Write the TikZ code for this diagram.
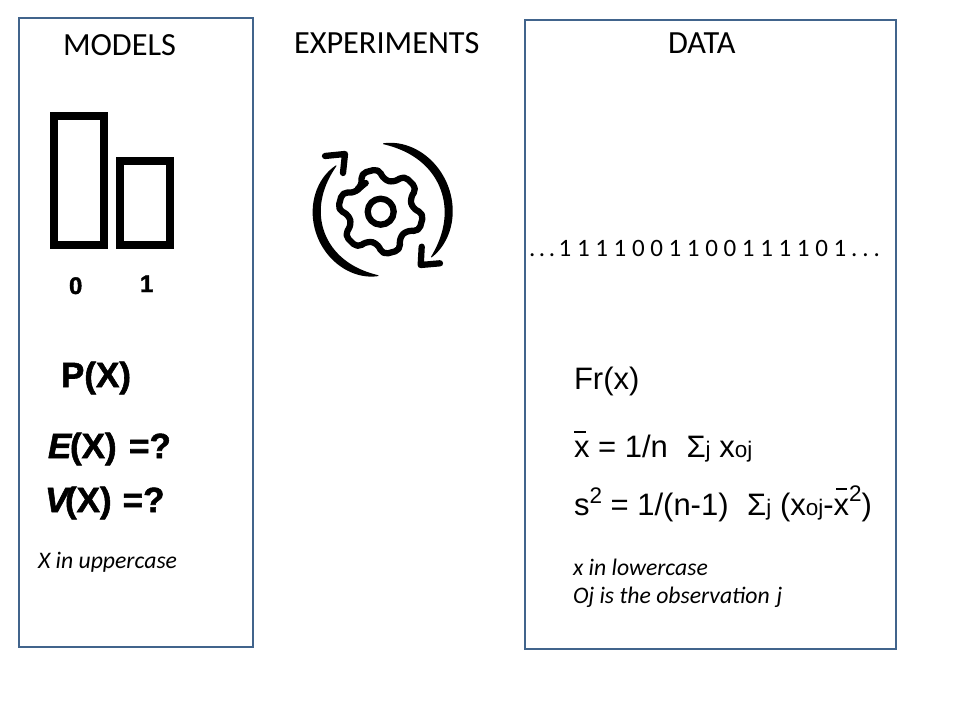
\documentclass[tikz,border=0pt]{standalone}
\usepackage{fontspec}
\setmainfont{Liberation Sans}
\newfontfamily\calfont{Carlito}
\newfontfamily\fatfont[FakeBold=1.6]{Liberation Sans Bold}
\newfontfamily\fatitfont[FakeBold=1.6]{Liberation Sans Bold Italic}
\newcommand{\px}[1]{\fontsize{\fpeval{#1*0.75}}{\fpeval{#1*0.9}}\selectfont}
\definecolor{panel}{HTML}{41648C}
\tikzset{
  x=0.75pt,y=-0.75pt,
  declare function={tw(\u)=0.4+3.7*(1-\u*\u*\u*\u);},
  panelbox/.style={draw=panel,line width=1.9pt},
  barbox/.style={draw=black,line width=6pt},
  lab/.style={anchor=base west,inner sep=0pt,outer sep=0pt,text=black},
  head/.style={lab,font=\calfont\px{32.3}},
  note/.style={lab,font=\calfont\itshape\px{23.7}},
  formula/.style={lab,font=\px{31}},
  strong/.style={lab,font=\fatfont\px{35}},
  digit/.style={lab,font=\fatfont\px{24}},
  icon/.style={draw=black,line width=4.7pt,line cap=round,line join=round},
}
\newcommand{\sm}[1]{{\px{22.5}#1}}
\begin{document}
\begin{tikzpicture}
\useasboundingbox (0,0) rectangle (960,720);
\draw[panelbox] (19,18) rectangle (253,647);
\draw[panelbox] (525,20) rectangle (896,649);
\node[head] (models) at (63,55.5) {MODELS};
\node[head] (experiments) at (294,54) {EXPERIMENTS};
\node[head] (data) at (668,54) {DATA};
% bars
\draw[barbox] (54,116.3) rectangle (103.7,244.7);
\draw[barbox] (120,161.3) rectangle (169.7,244.7);
\node[digit] (zero) at (69,294) {0};
\node[digit] (one) at (140,292) {1};
% gear
\begin{scope}[shift={(380.7,211.7)}]
\draw[icon,rounded corners=4pt]
  (-105-22:32) \foreach \a in {-105,-45,15,75,135,195} {
    -- (\a-21:32) -- (\a-12:43) -- (\a+12:43) -- (\a+21:32)
  } -- cycle;
\draw[icon] (0,0) circle (13);
% right arrow
\fill[black] plot[domain=-88:42,samples=50] ({(68+tw((\x+23)/65))*cos(\x)},{(68+tw((\x+23)/65))*sin(\x)})
  -- plot[domain=42:-88,samples=50] ({(68-tw((\x+23)/65))*cos(\x)},{(68-tw((\x+23)/65))*sin(\x)}) -- cycle;
% left arrow
\fill[black] plot[domain=92:226,samples=50] ({(64+tw((\x-159)/67))*cos(\x)},{(64+tw((\x-159)/67))*sin(\x)})
  -- plot[domain=226:92,samples=50] ({(64-tw((\x-159)/67))*cos(\x)},{(64-tw((\x-159)/67))*sin(\x)}) -- cycle;
\end{scope}
\draw[icon] (325,156) -- (345,154) -- (343,173);
\draw[icon] (421.7,246.7) -- (420.7,265) -- (440,263.3);
% binary string
\node[lab,font=\calfont\px{25}] (bits) at (529,257) {.\kern2.7pt.\kern2.7pt.\kern2.7pt{}1 1 1 1 0 0 1 1 0 0 1 1 1 1 0 1\kern3.7pt.\kern3.7pt.\kern3.7pt.};
% left formulas
\node[strong] (px) at (61,387) {P(X)};
\node[strong] (ex) at (48,458) {{\fatitfont E}\kern-1pt(X)\kern2pt{} =?};
\node[strong] (vx) at (45,512) {{\fatitfont V}\kern-2.5pt(X)\kern1pt{} =?};
\node[note] (upper) at (38,568.5) {X in uppercase};
% right formulas
\node[formula] (fr) at (574,389) {Fr(x)};
\node[formula] (mean) at (574,457) {x = 1/n\hspace{0.6em}Σ\sm{j} x\sm{oj}};
\node[formula] (var) at (574,515) {s\raisebox{0.36em}{\sm{2}} = 1/(n-1)\hspace{0.6em}Σ\sm{j} (x\sm{oj}-x\raisebox{0.42em}{\sm{2}})};
\coordinate (meanbarl) at (574,431.7);
\coordinate (meanbarr) at (586,431.7);
\coordinate (varbarl) at (836,489);
\coordinate (varbarr) at (847,489);
\draw[line width=1.2pt] (meanbarl) -- (meanbarr);
\draw[line width=1.2pt] (varbarl) -- (varbarr);
\node[note] (lower) at (573,575.5) {x in lowercase};
\node[note] (obs) at (573,603.5) {Oj is the observation\kern1.2pt{} j};
\end{tikzpicture}
\end{document}
